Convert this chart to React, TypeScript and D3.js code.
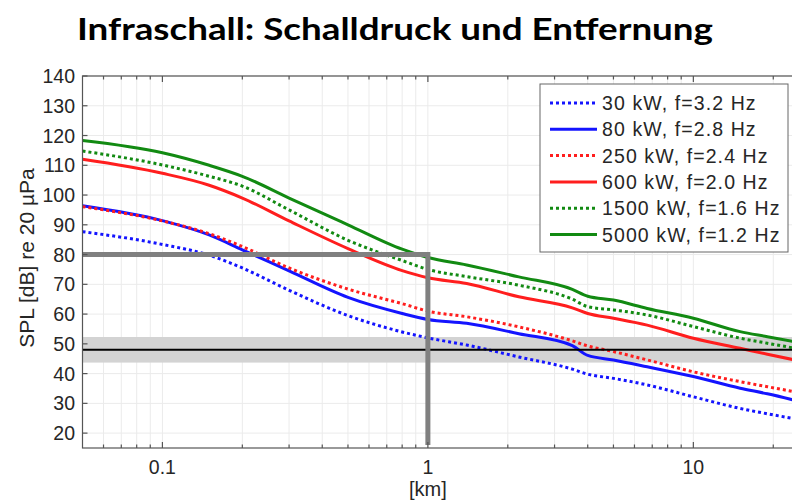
import React from 'react';
import * as d3 from 'd3';

// distances in km
const distances = [0.05, 0.1, 0.15, 0.2, 0.3, 0.5, 0.8, 1, 1.4, 2.2, 3.5, 4, 5, 6.7, 10, 15, 19, 25];
const kw30 = [87.7, 83.4, 79.8, 75.5, 68.0, 59.5, 54.0, 52.0, 49.6, 45.6, 41.5, 39.8, 38.4, 36.2, 32.2, 28.3, 26.5, 24.6];
const kw80 = [96.4, 91.4, 86.6, 81.6, 74.5, 65.6, 60.2, 58.2, 56.9, 53.4, 49.4, 46.1, 44.6, 42.3, 39.0, 35.1, 33.2, 30.7];
const kw250 = [96.1, 91.3, 87.0, 82.7, 75.5, 68.4, 63.5, 61.0, 59.1, 55.7, 51.0, 49.3, 47.4, 44.6, 40.6, 37.3, 35.6, 33.6];
const kw600 = [112.0, 107.3, 103.3, 99.0, 91.3, 82.0, 74.6, 72.2, 70.3, 65.8, 62.1, 60.2, 58.6, 56.3, 51.9, 48.5, 46.5, 44.3];
const kw1500 = [114.8, 110.1, 106.3, 103.0, 95.0, 84.8, 78.0, 75.0, 72.6, 69.7, 65.0, 62.5, 61.4, 59.7, 55.8, 51.9, 50.2, 48.3];
const kw5000 = [118.3, 114.2, 110.0, 106.3, 99.0, 90.0, 81.8, 79.0, 76.5, 72.5, 68.3, 66.0, 64.7, 61.9, 58.6, 54.1, 52.4, 50.4];

const seriesLabels = [
  '30 kW, f=3.2 Hz',
  '80 kW, f=2.8 Hz',
  '250 kW, f=2.4 Hz',
  '600 kW, f=2.0 Hz',
  '1500 kW, f=1.6 Hz',
  '5000 kW, f=1.2 Hz',
];
const seriesValues = [kw30, kw80, kw250, kw600, kw1500, kw5000];
const seriesColors = ['#1414ff', '#1414ff', '#ff1e1e', '#ff1e1e', '#128a12', '#128a12'];
const seriesDotted = [true, false, true, false, true, false];

const yTicks = [20, 30, 40, 50, 60, 70, 80, 90, 100, 110, 120, 130, 140];
const xMajorTicks = [0.1, 1, 10];
const xTickLabels = ['0.1', '1', '10'];
const xMinorTicks = [0.06, 0.07, 0.08, 0.09, 0.2, 0.3, 0.4, 0.5, 0.6, 0.7, 0.8, 0.9, 2, 3, 4, 5, 6, 7, 8, 9, 20];

const bandRange = [43.7, 52.3];
const thresholdLevel = 48;
const markerDistance = 1;
const markerLevel = 80;

const title = 'Infraschall: Schalldruck und Entfernung';
const yLabel = 'SPL [dB] re 20 µPa';
const xLabel = '[km]';

export default function App() {
  const W = 792;
  const H = 502;
  const left = 82.5;
  const right = 799;
  const top = 76;
  const bottom = 448;
  const x = d3.scaleLog().domain([0.05, 25]).range([left, right]);
  const y = d3.scaleLinear().domain([15, 140]).range([bottom, top]);

  const line = (vals: number[]) =>
    d3
      .line<number>()
      .x((_, i) => x(distances[i]))
      .y((d) => y(d))
      .curve(d3.curveMonotoneX)(vals) as string;

  const axisColor = '#555';
  const font = '"Liberation Sans", Arial, sans-serif';

  const legX = 540;
  const legY = 84;
  const legW = 248;
  const legH = 168;
  const rowH = 26.3;

  return (
    <svg
      width={W}
      height={H}
      style={{ position: 'absolute', left: 0, top: 0, background: '#fff' }}
      fontFamily={font}
    >
      <defs>
        <clipPath id="plotClip">
          <rect x={left} y={top} width={right - left} height={bottom - top} />
        </clipPath>
      </defs>
      <rect x={0} y={0} width={W} height={H} fill="#fff" />
      <text
        x={W / 2 - 1}
        y={40}
        textAnchor="middle"
        fontFamily="Lato, 'Open Sans', sans-serif"
        fontWeight={700}
        fontSize={31}
        textLength={636}
        lengthAdjust="spacingAndGlyphs"
        fill="#000"
      >
        {title}
      </text>

      {/* grid */}
      <g stroke="#ebebeb" strokeWidth={1}>
        {yTicks.map((t) => (
          <line key={'gy' + t} x1={left} x2={right} y1={y(t)} y2={y(t)} />
        ))}
        {[...xMajorTicks, ...xMinorTicks].map((t) => (
          <line key={'gx' + t} x1={x(t)} x2={x(t)} y1={top} y2={bottom} />
        ))}
      </g>

      <g clipPath="url(#plotClip)">
        <rect
          x={left}
          width={right - left}
          y={y(bandRange[1])}
          height={y(bandRange[0]) - y(bandRange[1])}
          fill="#d3d3d3"
        />
        {seriesValues.map((vals, i) => (
          <path
            key={'s' + i}
            d={line(vals)}
            fill="none"
            stroke={seriesColors[i]}
            strokeWidth={3}
            strokeDasharray={seriesDotted[i] ? '3 3' : undefined}
            strokeLinejoin="round"
          />
        ))}
        <line
          x1={left}
          x2={right}
          y1={y(thresholdLevel)}
          y2={y(thresholdLevel)}
          stroke="#000"
          strokeWidth={2}
        />
        <path
          d={`M${left},${y(markerLevel)}H${x(markerDistance)}V${bottom - 3}`}
          fill="none"
          stroke="#808080"
          strokeWidth={5}
        />
      </g>

      {/* axes frame */}
      <rect
        x={left}
        y={top}
        width={right - left}
        height={bottom - top}
        fill="none"
        stroke={axisColor}
        strokeWidth={1.2}
      />
      <g stroke={axisColor} strokeWidth={1.2}>
        {yTicks.map((t) => (
          <g key={'ty' + t}>
            <line x1={left} x2={left + 5} y1={y(t)} y2={y(t)} />
            <line x1={right} x2={right - 5} y1={y(t)} y2={y(t)} />
          </g>
        ))}
        {xMajorTicks.map((t) => (
          <g key={'tx' + t}>
            <line x1={x(t)} x2={x(t)} y1={bottom} y2={bottom - 6} />
            <line x1={x(t)} x2={x(t)} y1={top} y2={top + 6} />
          </g>
        ))}
        {xMinorTicks.map((t) => (
          <g key={'tm' + t}>
            <line x1={x(t)} x2={x(t)} y1={bottom} y2={bottom - 3.5} />
            <line x1={x(t)} x2={x(t)} y1={top} y2={top + 3.5} />
          </g>
        ))}
      </g>

      <g fontSize={19.5} fill="#262626">
        {yTicks.map((t) => (
          <text key={'ly' + t} x={left - 7.5} y={y(t) + 7} textAnchor="end">
            {t}
          </text>
        ))}
        {xMajorTicks.map((t, i) => (
          <text key={'lx' + t} x={x(t)} y={474} textAnchor="middle">
            {xTickLabels[i]}
          </text>
        ))}
        <text x={x(1)} y={496} textAnchor="middle" fontSize={20}>
          {xLabel}
        </text>
        <text
          transform={`translate(34,${(top + bottom) / 2 - 4}) rotate(-90)`}
          textAnchor="middle"
          fontSize={21}
        >
          {yLabel}
        </text>
      </g>

      {/* legend */}
      <g>
        <rect x={legX} y={legY} width={legW} height={legH} fill="#fff" stroke="#666" strokeWidth={1} />
        {seriesLabels.map((lab, i) => {
          const cy = legY + 19 + i * rowH;
          return (
            <g key={'lg' + i}>
              <line
                x1={legX + 10}
                x2={legX + 57}
                y1={cy}
                y2={cy}
                stroke={seriesColors[i]}
                strokeWidth={3}
                strokeDasharray={seriesDotted[i] ? '3 3' : undefined}
              />
              <text x={legX + 62} y={cy + 7} fontSize={19.5} letterSpacing={1.1} fill="#262626">
                {lab}
              </text>
            </g>
          );
        })}
      </g>
    </svg>
  );
}
